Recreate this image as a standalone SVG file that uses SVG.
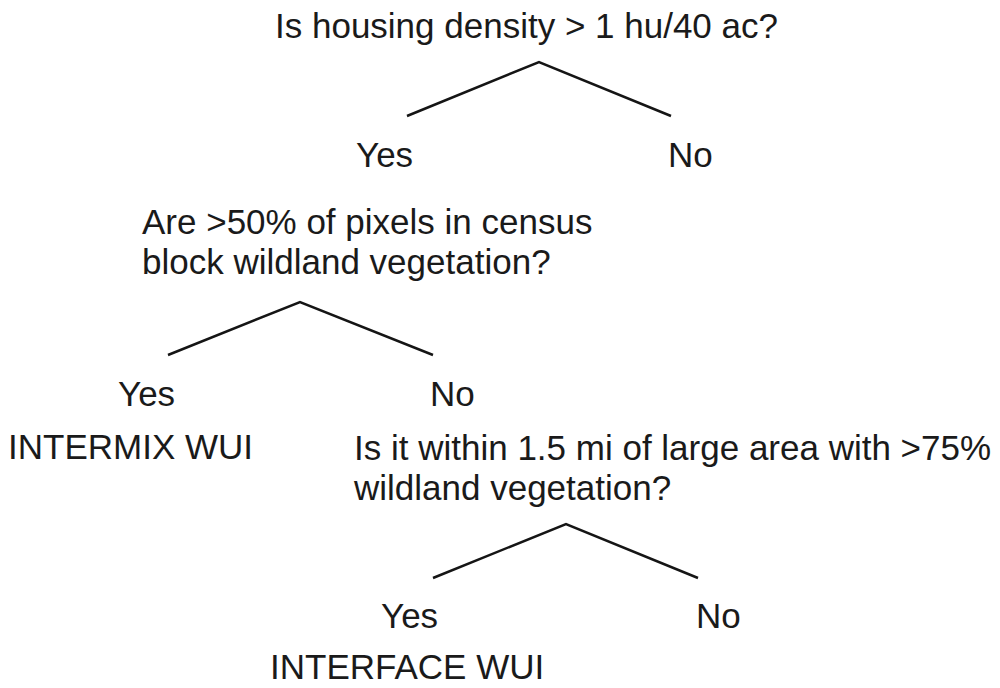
<svg xmlns="http://www.w3.org/2000/svg" width="1000" height="688" viewBox="0 0 1000 688">
<style>
text { font-family: "Liberation Sans", Arial, Helvetica, sans-serif; font-size: 35px; fill: #1a1a1a; }
.conn { fill: none; stroke: #151515; stroke-width: 2.5; stroke-linejoin: miter; }
</style>
<rect width="1000" height="688" fill="#ffffff"/>
<g id="connectors">
<polyline class="conn" points="407,116 539,62 671,116"/>
<polyline class="conn" points="168,355 300,302 433,355"/>
<polyline class="conn" points="433,578 566,524 698,578"/>
</g>
<g id="q1"><text x="275" y="38">Is housing density &gt; 1 hu/40 ac?</text></g>
<g id="q1-yes"><text x="356" y="167">Yes</text></g>
<g id="q1-no"><text x="668" y="167">No</text></g>
<g id="q2"><text x="142" y="234">Are &gt;50% of pixels in census</text><text x="142" y="274">block wildland vegetation?</text></g>
<g id="q2-yes"><text x="118" y="406">Yes</text></g>
<g id="q2-no"><text x="430" y="406">No</text></g>
<g id="intermix"><text x="8" y="459">INTERMIX WUI</text></g>
<g id="q3"><text x="354" y="460">Is it within 1.5 mi of large area with &gt;75%</text><text x="354" y="500">wildland vegetation?</text></g>
<g id="q3-yes"><text x="381" y="628">Yes</text></g>
<g id="q3-no"><text x="696" y="628">No</text></g>
<g id="interface"><text x="270" y="679">INTERFACE WUI</text></g>
</svg>
